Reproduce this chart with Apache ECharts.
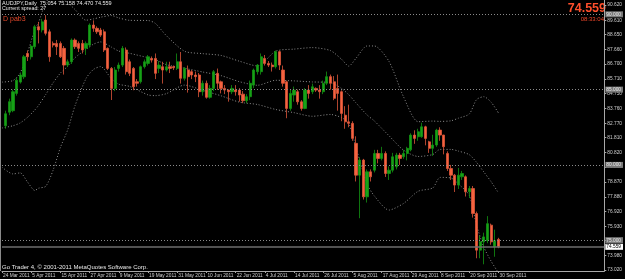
<!DOCTYPE html>
<html><head><meta charset="utf-8">
<script src="https://cdn.jsdelivr.net/npm/echarts@6/dist/echarts.min.js"></script>
<style>html,body{margin:0;padding:0;background:#000;}#c{width:625px;height:279px;}</style>
</head><body><div id="c"></div>
<script>
// ---- data (index 0 = 24 Mar 2011, weekdays) ----
const opens = [null,
 82.6, 83.5, 83.6, 84.75, 85.5, 85.85, 87.4, 87.18, 87.85, 89.18,
 88.96, 89.62, 88.84, 88.07, 88.07, 88.07, 87.74, 86.63, 86.85, 88.29,
 88.07, 88.07, 87.74, 87.96, 89.29, 89.07, 88.96, 88.84, 87.74, 86.41,
 85.08, 86.41, 86.63, 87.63, 86.85, 86.41, 85.52, 85.52, 86.52, 86.74,
 87.07, 87.07, 86.41, 86.52, 86.30, 86.52, 86.52, 86.41, 86.85, 85.75,
 86.30, 86.19, 85.97, 85.97, 84.86, 85.42, 84.49, 85.08, 86.08, 85.52,
 85.08, 84.97, 84.86, 84.97, 84.97, 84.70, 84.26, 84.53, 85.30, 86.19,
 86.19, 87.07, 86.74, 86.63, 86.52, 87.52, 86.30, 85.52, 83.75, 84.64,
 84.86, 84.19, 83.75, 84.97, 84.86, 85.08, 84.97, 84.86, 85.42, 85.86,
 85.52, 85.08, 84.86, 83.30, 82.86, 82.76, 81.43, 79.32, 80.32, 77.88,
 79.54, 79.65, 80.76, 80.43, 80.76, 79.43, 79.65, 79.87, 80.65, 80.54,
 80.76, 81.00, 81.98, 81.87, 81.87, 82.53, 81.53, 81.10, 81.32, 82.31,
 81.98, 80.76, 79.76, 79.32, 78.66, 79.21, 79.21, 78.21, 78.43, 76.77,
 74.34, 74.89, 74.97, 76.00, 74.56, 75.054];
const closes = [null,
 83.4, 84.2, 84.86, 85.63, 85.97, 87.18, 87.18, 87.89, 89.18, 88.96,
 89.5, 88.74, 87.18, 87.96, 87.85, 87.18, 86.63, 86.85, 88.29, 87.85,
 87.74, 87.63, 88.07, 89.29, 89.07, 88.84, 88.62, 87.63, 86.41, 85.08,
 86.30, 86.63, 87.74, 86.19, 86.08, 85.19, 85.42, 86.52, 86.85, 87.18,
 86.96, 86.08, 86.63, 86.30, 86.52, 86.41, 86.45, 86.85, 85.75, 86.41,
 85.86, 85.97, 85.86, 84.86, 85.42, 84.49, 85.08, 86.19, 85.42, 85.08,
 84.97, 84.86, 85.08, 84.86, 84.64, 84.26, 84.53, 85.42, 86.30, 86.63,
 87.18, 86.74, 86.63, 86.52, 87.52, 86.63, 85.42, 83.75, 84.75, 84.97,
 84.19, 83.75, 84.97, 84.75, 85.19, 84.97, 84.86, 85.42, 85.86, 85.42,
 84.42, 84.75, 83.42, 82.86, 82.76, 81.76, 79.32, 80.32, 77.88, 79.54,
 79.21, 80.76, 80.43, 80.76, 79.43, 79.65, 80.54, 80.65, 80.43, 80.76,
 81.10, 81.98, 81.76, 82.20, 82.53, 81.76, 81.10, 81.32, 82.31, 81.98,
 81.21, 79.76, 79.32, 78.66, 79.32, 79.43, 78.21, 78.43, 76.77, 74.34,
 74.89, 75.22, 76.10, 74.89, 74.97, 74.559];
const lows = [null,
 82.4, 83.3, 83.5, 84.6, 85.4, 85.7, 86.9, 87.0, 87.7, 88.07,
 88.8, 88.6, 86.85, 87.8, 87.3, 87.1, 86.0, 86.5, 86.7, 87.7,
 87.5, 87.4, 87.3, 87.8, 88.84, 88.7, 88.5, 87.5, 86.3, 84.31,
 84.9, 86.2, 86.5, 86.0, 85.9, 84.96, 85.2, 85.4, 86.4, 86.6,
 86.8, 85.7, 86.1, 85.4, 86.2, 86.1, 86.3, 86.3, 85.4, 85.6,
 84.8, 85.7, 85.5, 84.5, 84.6, 84.4, 84.4, 84.9, 84.98, 84.75,
 84.7, 84.2, 84.7, 84.6, 84.2, 84.1, 84.1, 84.3, 85.1, 86.0,
 86.0, 86.6, 86.5, 86.2, 86.4, 86.3, 85.2, 83.1, 83.6, 84.2,
 84.0, 83.6, 83.7, 84.4, 84.7, 84.85, 84.4, 84.7, 85.3, 85.0,
 84.3, 83.6, 82.9, 82.4, 82.5, 81.6, 78.9, 76.46, 77.7, 77.5,
 78.9, 79.5, 80.1, 80.3, 79.2, 79.0, 79.5, 79.7, 80.0, 80.4,
 80.3, 80.9, 81.4, 81.6, 81.8, 81.3, 80.8, 80.6, 81.2, 81.6,
 80.7, 79.6, 79.0, 78.2, 78.4, 79.0, 77.9, 77.8, 76.5, 73.8,
 73.8, 73.4, 74.8, 74.7, 73.9, 74.47];
const highs = [null,
 83.6, 84.4, 85.0, 85.8, 86.1, 87.3, 87.6, 88.0, 89.3, 89.5,
 89.7, 89.95, 89.0, 88.2, 88.3, 88.2, 87.9, 87.0, 88.4, 88.4,
 88.2, 88.3, 88.2, 89.4, 89.6, 89.2, 89.1, 89.0, 87.8, 86.5,
 86.5, 86.8, 87.9, 87.8, 87.0, 86.5, 85.7, 86.6, 87.0, 87.3,
 87.2, 87.4, 86.9, 86.85, 86.85, 86.85, 86.6, 87.4, 87.5, 86.5,
 86.6, 86.3, 86.2, 86.1, 85.6, 85.6, 85.3, 86.3, 86.4, 85.6,
 85.3, 85.0, 85.3, 85.3, 85.1, 84.9, 84.7, 85.6, 86.4, 86.7,
 87.4, 87.3, 86.9, 86.8, 87.6, 87.6, 86.6, 85.6, 85.0, 85.2,
 85.0, 84.3, 85.1, 85.3, 85.4, 85.15, 85.3, 85.6, 86.2, 86.0,
 85.9, 86.0, 84.95, 83.9, 84.0, 82.9, 81.9, 80.5, 80.4, 79.7,
 79.7, 81.0, 81.0, 81.2, 80.9, 79.9, 80.8, 80.8, 80.8, 81.0,
 81.2, 82.1, 82.3, 82.4, 82.8, 82.6, 81.6, 82.0, 82.4, 82.5,
 82.0, 80.9, 80.0, 79.4, 79.8, 79.6, 79.3, 78.6, 78.6, 76.9,
 75.3, 75.5, 76.6, 76.1, 75.7, 75.158];

// Bollinger band readings (bar index -> price)
const bandIdx   = [0, 3, 5, 7, 9, 10, 12, 14, 16, 18, 20, 23, 25, 27, 30, 32, 35, 40, 42, 45, 50, 55, 60, 65, 70, 75, 80, 85, 90, 93, 95, 97, 100, 102, 106, 110, 114, 118, 120, 123, 125, 128, 130, 132, 134, 136];
const bandUpper = [85.5, 85.6, 86.11, 87.46, 88.99, 89.45, 90.78, 91.25, 91.04, 90.77, 90.32, 89.61, 89.69, 89.81, 89.92, 89.76, 89.60, 89.59, 89.4, 88.59, 87.55, 87.39, 87.27, 86.89, 86.57, 87.56, 87.69, 87.79, 87.59, 87.02, 86.56, 87.09, 87.90, 87.90, 86.88, 84.52, 82.87, 82.91, 82.89, 82.93, 83.10, 83.38, 84.34, 84.53, 84.16, 83.45];
const bandMid   = [82.45, 82.6, 82.79, 83.16, 83.65, 83.95, 84.68, 85.45, 86.10, 86.55, 87.12, 87.67, 88.01, 88.17, 87.82, 87.56, 87.41, 87.12, 87.0, 86.66, 86.42, 86.17, 85.93, 85.53, 85.29, 85.62, 85.58, 85.51, 85.47, 85.08, 84.66, 84.11, 83.32, 82.92, 81.94, 80.98, 80.56, 80.69, 81.03, 81.03, 80.92, 80.68, 80.17, 79.53, 78.88, 78.14];
const bandLower = [79.85, 79.4, 79.47, 78.86, 78.3, 78.45, 78.58, 79.65, 81.16, 82.33, 83.93, 85.73, 86.33, 86.53, 85.72, 85.36, 85.21, 84.65, 84.6, 84.73, 85.30, 84.95, 84.59, 84.17, 84.01, 83.68, 83.47, 83.23, 83.35, 83.14, 82.76, 81.13, 78.74, 77.94, 77.0, 77.44, 78.25, 78.47, 79.17, 79.13, 78.74, 77.98, 76.0, 74.53, 73.60, 72.83];

const priceTicks = [90.620, 89.610, 88.650, 87.660, 86.700, 85.710, 84.750, 83.760, 82.770, 81.810, 80.820, 79.860, 78.870, 77.880, 76.920, 75.930, 74.970, 73.980, 73.020];
const dateTicks = ['24 Mar 2011','5 Apr 2011','15 Apr 2011','27 Apr 2011','9 May 2011','19 May 2011','31 May 2011','10 Jun 2011','22 Jun 2011','4 Jul 2011','14 Jul 2011','26 Jul 2011','5 Aug 2011','17 Aug 2011','29 Aug 2011','8 Sep 2011','20 Sep 2011','30 Sep 2011'];
const levelLines = [90.000, 85.000, 80.000, 75.000];
const bidPrice = 74.559;
const totalSlots = 166;

// ---- build ----
const months=['Jan','Feb','Mar','Apr','May','Jun','Jul','Aug','Sep','Oct','Nov','Dec'];
const cats=[]; let d=new Date(Date.UTC(2011,2,24));
while(cats.length<totalSlots){const wd=d.getUTCDay(); if(wd!==0&&wd!==6) cats.push(d.getUTCDate()+' '+months[d.getUTCMonth()]+' '+d.getUTCFullYear()); d=new Date(d.getTime()+86400000);}
const candles = cats.map((c,i)=> (opens[i]==null? '-' : [opens[i], closes[i], lows[i], highs[i]]));
const mk = arr => bandIdx.map((ix,k)=>[ix, arr[k]]);
const tickSet = new Set(dateTicks);

const chart = echarts.init(document.getElementById('c'), null, {renderer:'canvas'});
const FONT = 'Liberation Sans';
const bandStyle = {type:[1,2], color:'#8c8c8c', width:1};
const levelMarks = levelLines.map(v=>({yAxis:v, lineStyle:{type:[1,2], color:'#8a8a8a', width:1},
  label:{show:true, position:'end', distance:1, formatter:v.toFixed(3), color:'#e6e6e6', backgroundColor:'#7a7a7a', padding:[1,2,0,1], fontSize:4.8, fontFamily:FONT}}));
levelMarks.push({yAxis:bidPrice, lineStyle:{type:'solid', color:'#6c6c6c', width:1.5},
  label:{show:true, position:'end', distance:1, formatter:bidPrice.toFixed(3), color:'#000', backgroundColor:'#ffffff', padding:[1,2,0,1], fontSize:4.8, fontFamily:FONT}});

chart.setOption({
  backgroundColor:'#000000',
  animation:false,
  grid:{left:1.2, top:0, width:606.4, height:271, containLabel:false},
  xAxis:{type:'category', data:cats, boundaryGap:false,
    axisLine:{show:true, lineStyle:{color:'#a8a8a8', width:1}},
    axisTick:{show:true, length:2, interval:(i,v)=>tickSet.has(v), lineStyle:{color:'#a8a8a8'}},
    axisLabel:{show:true, interval:(i,v)=>tickSet.has(v), align:'left', margin:2, color:'#cfcfcf', fontSize:4.8, fontFamily:FONT, padding:[0,0,0,1]},
    splitLine:{show:false}},
  yAxis:{type:'value', position:'right', min:72.954, max:90.952, scale:true,
    axisLine:{show:true, lineStyle:{color:'#a8a8a8', width:1}},
    axisTick:{show:true, length:2, customValues:priceTicks, lineStyle:{color:'#a8a8a8'}},
    axisLabel:{show:true, customValues:priceTicks, formatter:v=>v.toFixed(3), margin:3, color:'#cfcfcf', fontSize:4.8, fontFamily:FONT},
    splitLine:{show:false}},
  series:[
    {type:'line', data:mk(bandUpper), symbol:'none', smooth:0.25, lineStyle:bandStyle, z:1, silent:true},
    {type:'line', data:mk(bandMid), symbol:'none', smooth:0.25, lineStyle:bandStyle, z:1, silent:true},
    {type:'line', data:mk(bandLower), symbol:'none', smooth:0.25, lineStyle:bandStyle, z:1, silent:true},
    {type:'candlestick', data:candles, barWidth:2.7, z:3,
      itemStyle:{color:'#17a117', color0:'#f5633f', borderColor:'#139313', borderColor0:'#dc563a', borderWidth:0.8},
      markLine:{silent:true, symbol:['none','none'], data:levelMarks, animation:false}}
  ],
  graphic:[
    {type:'line', shape:{x1:0.5,y1:0,x2:0.5,y2:271}, style:{stroke:'#8a8a8a', lineWidth:1}},
    {type:'text', x:2, y:0, style:{text:'AUDJPY,Daily  75.054 75.158 74.470 74.559', fill:'#e8e8e8', font:'5.5px '+FONT}},
    {type:'text', x:2, y:6.5, style:{text:'Current spread: 27', fill:'#e8e8e8', font:'5.3px '+FONT}},
    {type:'text', x:3, y:15.5, style:{text:'D pab3', fill:'#e3472b', font:'7px '+FONT}},
    {type:'text', x:606, y:2, style:{text:'74.559', fill:'#ff4f2c', font:'bold 12.5px '+FONT, textAlign:'right'}},
    {type:'text', x:604, y:16, style:{text:'08:33:04', fill:'#f0472a', font:'6px '+FONT, textAlign:'right'}},
    {type:'text', x:2, y:264, style:{text:'Go Trader 4, © 2001-2011 MetaQuotes Software Corp.', fill:'#e8e8e8', font:'6px '+FONT}}
  ]
});
</script></body></html>
